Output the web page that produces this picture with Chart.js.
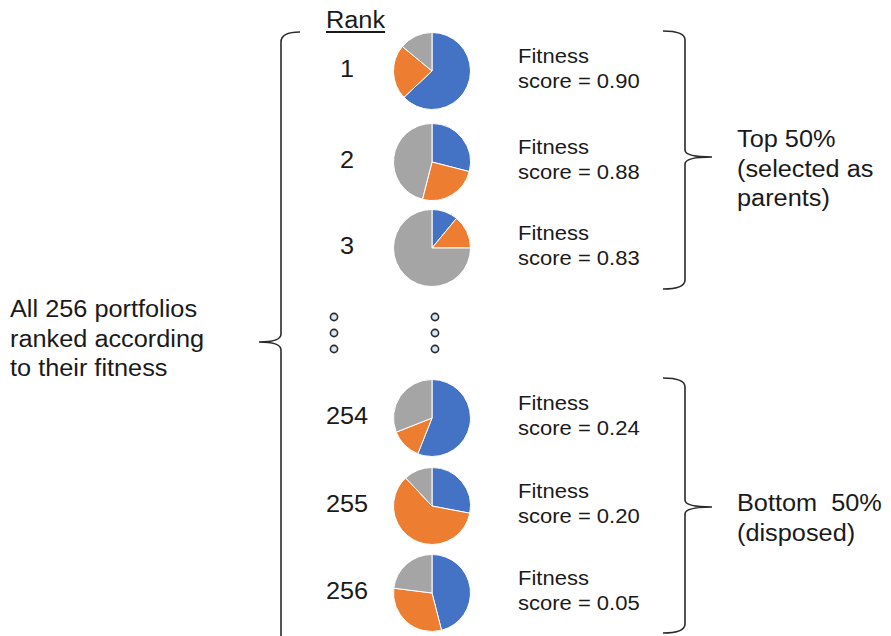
<!DOCTYPE html>
<html>
<head>
<meta charset="utf-8">
<script src="https://cdn.jsdelivr.net/npm/chart.js@4.4.1/dist/chart.umd.min.js"></script>
<style>
  body { margin: 0; background: #fff; }
  #wrap { position: relative; width: 891px; height: 636px; overflow: hidden; background: #fff;
          font-family: "Liberation Sans", Arial, sans-serif; color: #1a1a1a; }
  .t { position: absolute; white-space: nowrap; transform: scaleX(1.1); transform-origin: left top; }
  .big { font-size: 23px; line-height: 29.5px; }
  .fit { font-size: 20px; line-height: 25px; }
  .rank { font-size: 23px; line-height: 29.5px; width: 48px; text-align: center; transform-origin: center top; }
  canvas.pie { position: absolute; }
  svg { position: absolute; left: 0; top: 0; }
</style>
</head>
<body>
<div id="wrap">
  <svg width="891" height="636" id="marks"></svg>
</div>
<script>
// rank shown next to each portfolio
var ranks = ['1', '2', '3', '254', '255', '256'];
var fitness = ['0.90', '0.88', '0.83', '0.24', '0.20', '0.05'];
// portfolio weights (%) per asset
var blueShare   = [63, 29, 11, 56, 28, 46];
var orangeShare = [23, 25, 14, 13, 60, 31];
var grayShare   = [14, 46, 75, 31, 12, 23];
var sliceColors = ['#4472C4', '#ED7D31', '#A5A5A5'];

// vertical centre of each row
var rowY = [71, 162, 248, 418, 506, 593];
var pieX = 432;
var pieSize = 78;

var wrap = document.getElementById('wrap');

function addText(html, cls, left, top) {
    var d = document.createElement('div');
    d.className = 't ' + cls;
    d.innerHTML = html;
    d.style.left = left + 'px';
    d.style.top = top + 'px';
    wrap.appendChild(d);
    return d;
}

// header
var hdr = addText('Rank', 'big', 326, 6);
hdr.style.textDecoration = 'underline';
hdr.style.textUnderlineOffset = '3px';

addText('All 256 portfolios<br>ranked according<br>to their fitness', 'big', 10, 295);
addText('Top 50%<br>(selected as<br>parents)', 'big', 737, 125);
addText('Bottom&nbsp;&nbsp;50%<br>(disposed)', 'big', 737, 489);

for (var i = 0; i < ranks.length; i++) {
    addText(ranks[i], 'rank', 323, rowY[i] - 16);
    addText('Fitness<br>score = ' + fitness[i], 'fit', 518, rowY[i] - 27);

    var c = document.createElement('canvas');
    c.className = 'pie';
    c.width = pieSize;
    c.height = pieSize;
    c.style.left = (pieX - pieSize / 2) + 'px';
    c.style.top = (rowY[i] - pieSize / 2) + 'px';
    wrap.appendChild(c);

    new Chart(c.getContext('2d'), {
        type: 'pie',
        data: {
            labels: ['Asset A', 'Asset B', 'Asset C'],
            datasets: [{
                data: [blueShare[i], orangeShare[i], grayShare[i]],
                backgroundColor: sliceColors,
                borderColor: '#ffffff',
                borderWidth: 1
            }]
        },
        options: {
            responsive: false,
            animation: false,
            plugins: {
                legend: { display: false },
                tooltip: { enabled: false }
            }
        }
    });
}

// braces and the "..." dots
var svg = document.getElementById('marks');
var ns = 'http://www.w3.org/2000/svg';
function path(d) {
    var p = document.createElementNS(ns, 'path');
    p.setAttribute('d', d);
    p.setAttribute('fill', 'none');
    p.setAttribute('stroke', '#2b2b2b');
    p.setAttribute('stroke-width', '1.6');
    svg.appendChild(p);
}
// left brace (opens to the right)
path('M300 32 Q281 32 281 42 L281 334 Q281 342 259 342 Q281 342 281 350 L281 640');
// right braces (open to the left)
function rightBrace(top, mid, bottom) {
    path('M663 ' + top + ' Q685 ' + top + ' 685 ' + (top + 9) +
         ' L685 ' + (mid - 7) + ' Q685 ' + mid + ' 712 ' + mid +
         ' Q685 ' + mid + ' 685 ' + (mid + 7) +
         ' L685 ' + (bottom - 9) + ' Q685 ' + bottom + ' 663 ' + bottom);
}
rightBrace(31, 157, 289);
rightBrace(378, 507, 633);

var dotX = [334, 435];
var dotY = [317, 333, 349];
dotX.forEach(function (x) {
    dotY.forEach(function (y) {
        var e = document.createElementNS(ns, 'circle');
        e.setAttribute('cx', x);
        e.setAttribute('cy', y);
        e.setAttribute('r', 3.6);
        e.setAttribute('fill', '#d9e8f5');
        e.setAttribute('stroke', '#2b2b2b');
        e.setAttribute('stroke-width', '1.6');
        svg.appendChild(e);
    });
});
</script>
</body>
</html>
